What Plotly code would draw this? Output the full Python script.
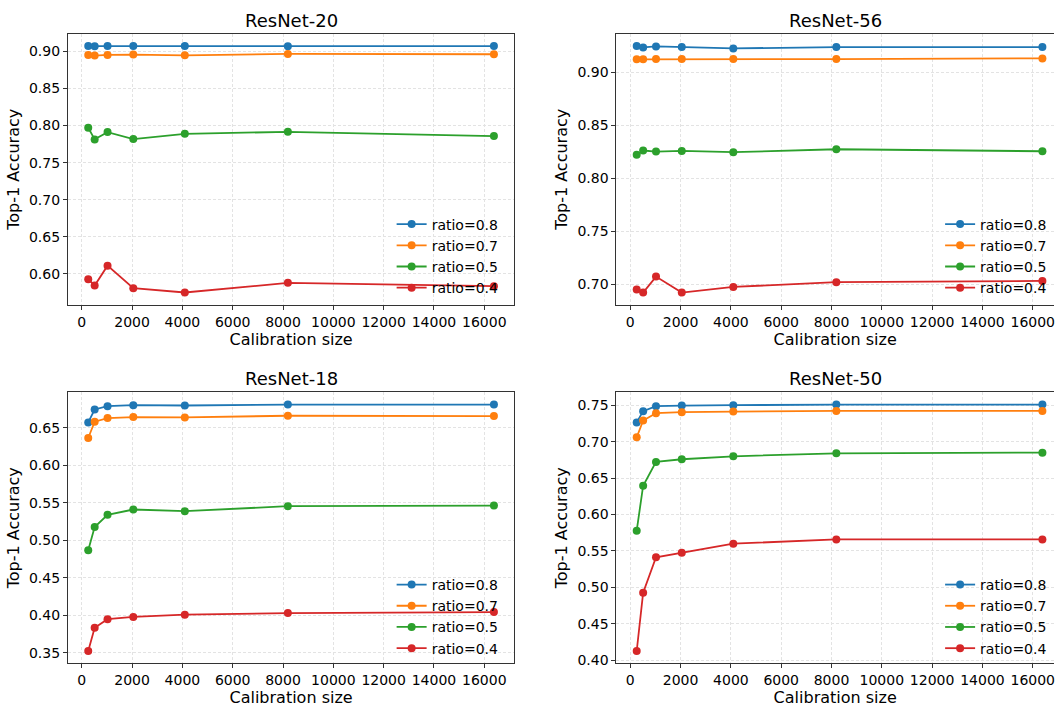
import plotly.graph_objects as go

# ---------------- data ----------------
calib_sizes = [256, 512, 1024, 2048, 4096, 8192, 16384]
ratio_labels = ["ratio=0.8", "ratio=0.7", "ratio=0.5", "ratio=0.4"]
colors = ["#1f77b4", "#ff7f0e", "#2ca02c", "#d62728"]

resnet20_r08 = [0.9070, 0.9067, 0.9070, 0.9070, 0.9070, 0.9067, 0.9070]
resnet20_r07 = [0.8951, 0.8942, 0.8951, 0.8955, 0.8946, 0.8964, 0.8960]
resnet20_r05 = [0.7969, 0.7813, 0.7911, 0.7817, 0.7888, 0.7915, 0.7857]
resnet20_r04 = [0.5929, 0.5844, 0.6112, 0.5808, 0.5750, 0.5880, 0.5835]

resnet56_r08 = [0.9247, 0.9234, 0.9244, 0.9238, 0.9225, 0.9238, 0.9238]
resnet56_r07 = [0.9122, 0.9122, 0.9125, 0.9125, 0.9125, 0.9125, 0.9131]
resnet56_r05 = [0.8222, 0.8263, 0.8253, 0.8259, 0.8247, 0.8275, 0.8256]
resnet56_r04 = [0.6953, 0.6925, 0.7075, 0.6925, 0.6978, 0.7022, 0.7034]

resnet18_r08 = [0.6570, 0.6742, 0.6786, 0.6800, 0.6795, 0.6808, 0.6808]
resnet18_r07 = [0.6363, 0.6579, 0.6628, 0.6641, 0.6637, 0.6659, 0.6654]
resnet18_r05 = [0.4868, 0.5176, 0.5339, 0.5410, 0.5388, 0.5454, 0.5463]
resnet18_r04 = [0.3526, 0.3835, 0.3949, 0.3980, 0.4009, 0.4031, 0.4044]

resnet50_r08 = [0.7264, 0.7418, 0.7486, 0.7495, 0.7500, 0.7509, 0.7509]
resnet50_r07 = [0.7059, 0.7290, 0.7390, 0.7404, 0.7413, 0.7422, 0.7422]
resnet50_r05 = [0.5778, 0.6395, 0.6722, 0.6758, 0.6799, 0.6840, 0.6849]
resnet50_r04 = [0.4127, 0.4926, 0.5413, 0.5476, 0.5599, 0.5658, 0.5658]

panel_titles = ["ResNet-20", "ResNet-56", "ResNet-18", "ResNet-50"]
panel_series = [
    [resnet20_r08, resnet20_r07, resnet20_r05, resnet20_r04],
    [resnet56_r08, resnet56_r07, resnet56_r05, resnet56_r04],
    [resnet18_r08, resnet18_r07, resnet18_r05, resnet18_r04],
    [resnet50_r08, resnet50_r07, resnet50_r05, resnet50_r04],
]
x_tick_vals = [0, 2000, 4000, 6000, 8000, 10000, 12000, 14000, 16000]

# ---------------- layout geometry ----------------
W, H = 1055, 711
FONT = "DejaVu Sans"
col_px = [(68, 514.7), (617, 1055)]
row_px = [(34, 307), (395, 668)]
axis_px_width = 514.7 - 68

xmin_full = min(calib_sizes) - 0.05 * (max(calib_sizes) - min(calib_sizes))
xmax_full = max(calib_sizes) + 0.05 * (max(calib_sizes) - min(calib_sizes))
units_per_px = (xmax_full - xmin_full) / axis_px_width

fig = go.Figure()
legend_pos = [(392, 210), (941, 210), (392, 573), (941, 573)]

for p in range(4):
    r, c = divmod(p, 2)
    idx = p + 1
    xa = "x" if idx == 1 else f"x{idx}"
    ya = "y" if idx == 1 else f"y{idx}"
    leg = "legend" if idx == 1 else f"legend{idx}"
    for s in range(4):
        fig.add_trace(go.Scatter(
            x=calib_sizes, y=panel_series[p][s], mode="lines+markers",
            name=ratio_labels[s], line=dict(color=colors[s], width=1.8),
            marker=dict(color=colors[s], size=8),
            xaxis=xa, yaxis=ya, legend=leg,
        ))

    x0, x1 = col_px[c]
    y0, y1 = row_px[r]
    xdom = [x0 / W, x1 / W]
    ydom = [1 - y1 / H, 1 - y0 / H]
    xr_max = xmin_full + (x1 - x0) * units_per_px
    vals = [v for ser in panel_series[p] for v in ser]
    vmin, vmax = min(vals), max(vals)
    pad = 0.05 * (vmax - vmin)

    axis_common = dict(
        showline=True, linecolor="#333333", linewidth=1,
        ticks="outside", ticklen=4, tickcolor="#333333", tickwidth=1,
        showgrid=True, gridcolor="#e3e3e3", gridwidth=1, griddash="3px,2px",
        zeroline=False, tickfont=dict(family=FONT, size=14, color="#000"),
        ticklabeloverflow="allow",
    )
    xkey = "xaxis" if idx == 1 else f"xaxis{idx}"
    ykey = "yaxis" if idx == 1 else f"yaxis{idx}"
    fig.layout[xkey] = dict(
        axis_common, domain=xdom, anchor=ya, range=[xmin_full, xr_max],
        tickvals=x_tick_vals, tickformat="d", mirror=True,
        title=dict(text="Calibration size", font=dict(family=FONT, size=16, color="#000"), standoff=3),
    )
    fig.layout[ykey] = dict(
        axis_common, domain=ydom, anchor=xa, range=[vmin - pad, vmax + pad],
        dtick=0.05, tick0=0, tickformat=".2f", mirror=(c == 0),
        title=dict(text="Top-1 Accuracy", font=dict(family=FONT, size=16, color="#000"), standoff=5),
    )
    fig.add_annotation(
        text=panel_titles[p], xref="paper", yref="paper",
        x=(x0 + min(x1, x0 + axis_px_width)) / 2 / W, y=ydom[1],
        xanchor="center", yanchor="bottom", yshift=1, showarrow=False,
        font=dict(family=FONT, size=18, color="#000"),
    )
    lx, ly = legend_pos[p]
    fig.layout[leg] = dict(
        x=lx / W, y=1 - ly / H, xanchor="left", yanchor="top",
        bgcolor="rgba(0,0,0,0)", borderwidth=0, tracegroupgap=0,
        font=dict(family=FONT, size=14, color="#000"), itemwidth=30,
    )

fig.update_layout(
    width=W, height=H, margin=dict(l=0, r=0, t=0, b=0),
    paper_bgcolor="white", plot_bgcolor="white", showlegend=True,
    font=dict(family=FONT),
)

fig.write_html("out.html")
